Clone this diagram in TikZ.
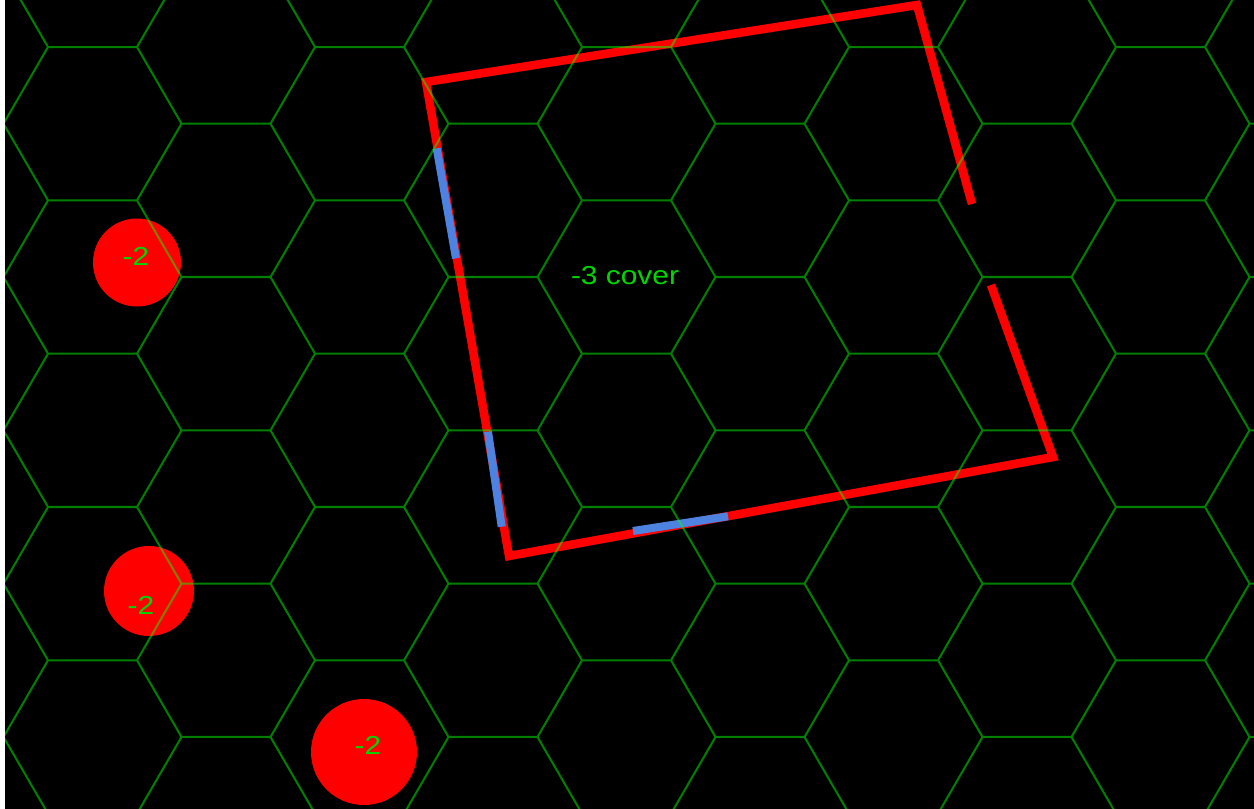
\documentclass[tikz,border=0pt]{standalone}
\usepackage{fontspec}
\newfontfamily\hexfont{Liberation Sans}
\usepackage{xcolor}
\definecolor{hgreen}{RGB}{0,255,0}
\definecolor{tgreen}{RGB}{0,215,0}
\definecolor{hred}{RGB}{255,0,0}
\definecolor{hblue}{RGB}{78,130,225}

\begin{document}
\begin{tikzpicture}[x=1pt, y=-1pt,
    gridline/.style={draw=hgreen, opacity=0.5, line width=2pt},
    edge/.style={draw=hred, line width=8.5pt, line join=miter},
    hit/.style={draw=hblue, line width=8pt},
    pen/.style={circle, fill=hred, inner sep=0pt},
    tag/.style={text=tgreen, font=\hexfont\fontsize{26}{30}\selectfont,
                xscale=1.15, inner sep=0pt}
]

% Canvas
\useasboundingbox (0,0) rectangle (1254,809);
\fill[white] (0,0) rectangle (1254,809);
\fill[black] (5,0) rectangle (1254,809);

% Obstacles
\node[pen, minimum size=88pt] (pen1) at (137,262.5) {};
\node[pen, minimum size=90pt] (pen2) at (149,591) {};
\node[pen, minimum size=106pt] (pen3) at (364,752) {};

% Cover area
\coordinate (tr) at (917,5);
\coordinate (tl) at (426,82);
\coordinate (bl) at (509,556);
\coordinate (br) at (1053,457);
\coordinate (gapa) at (972,204);
\coordinate (gapb) at (991,285);
\draw[edge] (gapa) -- (tr) -- (tl) -- (bl) -- (br) -- (gapb);

% Covered pieces
\draw[hit] (436.7,148.3) -- (456,258.3);
\draw[hit] (488,431.7) -- (501.7,526.7);
\draw[hit] (633,531) -- (728,516.3);

% Hex grid
\begin{scope}
\clip (5,0) rectangle (1254,809);
\draw[gridline]
  \foreach \k [evaluate=\k as \cx using -41+133.5*\k,
               evaluate=\k as \cyz using {47+76.67*mod(\k,2)}] in {0,...,10} {
    \foreach \j [evaluate=\j as \cy using \cyz+153.33*\j] in {-1,...,5} {
      ({\cx-89},{\cy}) -- ({\cx-44.5},{\cy-76.67}) -- ({\cx+44.5},{\cy-76.67})
      -- ({\cx+89},{\cy}) -- ({\cx+44.5},{\cy+76.67}) -- ({\cx-44.5},{\cy+76.67})
      -- cycle
    }
  };
\end{scope}

% Labels
\node[tag] (lab1) at (136,256) {-2};
\node[tag] (lab2) at (141,605) {-2};
\node[tag] (lab3) at (368,745) {-2};
\node[tag] (cover) at (625,276) {-3 cover};

\end{tikzpicture}
\end{document}
